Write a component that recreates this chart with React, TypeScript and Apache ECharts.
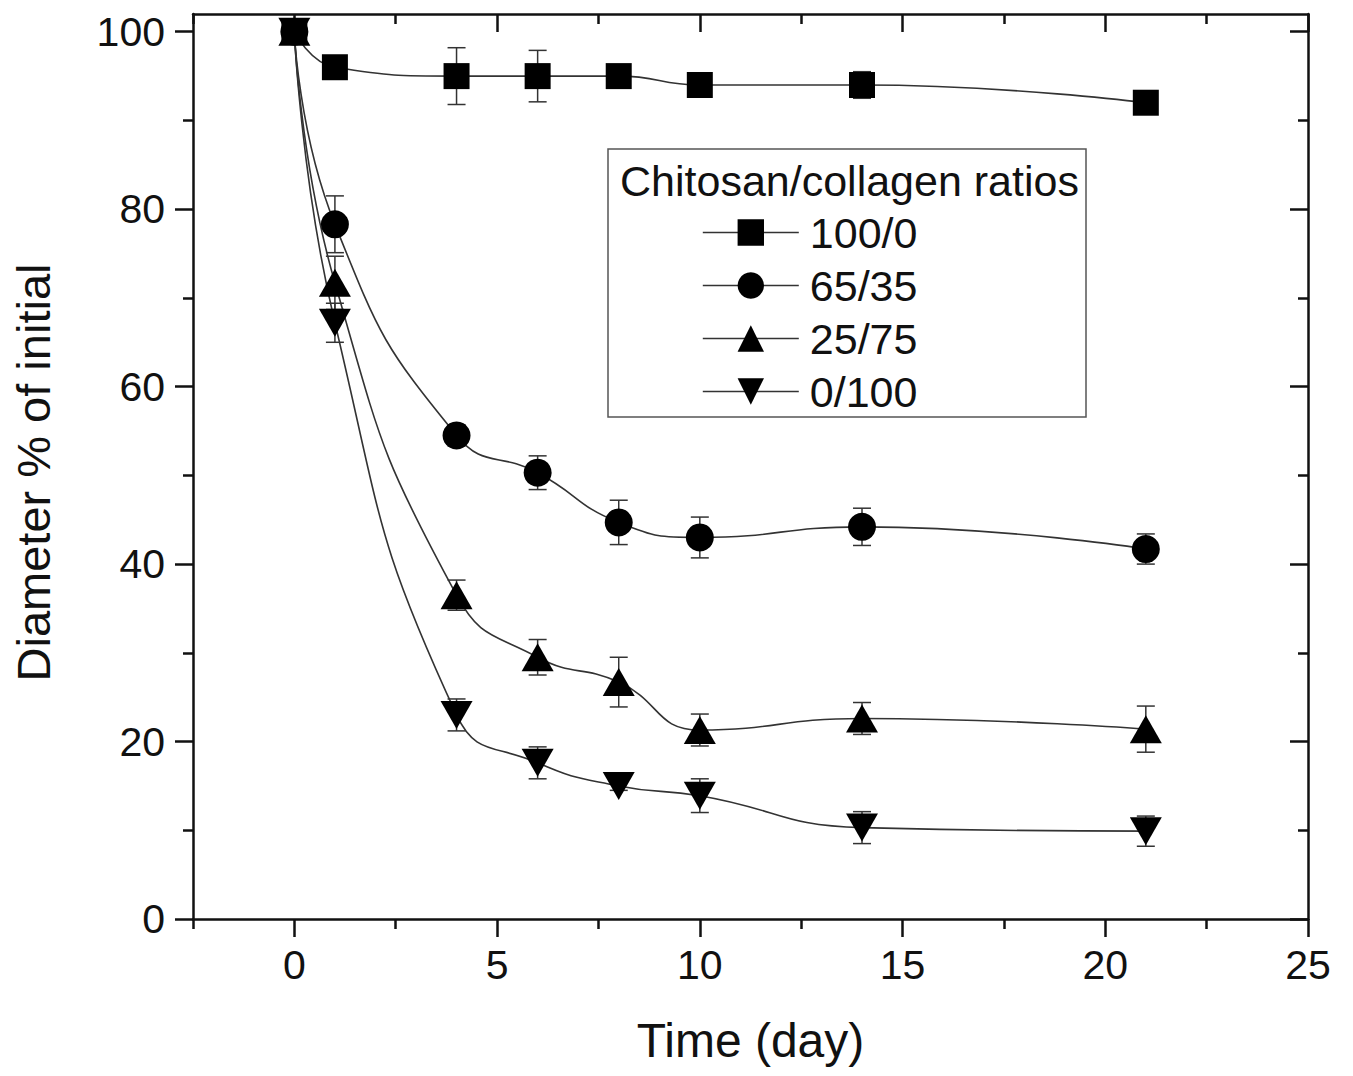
import React, { useEffect, useRef } from "react";
import * as echarts from "echarts";

const days = [0, 1, 4, 6, 8, 10, 14, 21];
const seriesNames = ["100/0", "65/35", "25/75", "0/100"];
const s100 = [100, 96, 95, 95, 95, 94, 94, 92];
const e100 = [0, 1, 3.2, 2.9, 0.8, 0.8, 1.5, 0.8];
const s65 = [100, 78.3, 54.5, 50.3, 44.7, 43, 44.2, 41.7];
const e65 = [0, 3.2, 1.2, 1.9, 2.5, 2.3, 2.1, 1.7];
const s25 = [100, 71.7, 36.5, 29.5, 26.7, 21.3, 22.6, 21.4];
const e25 = [0, 3, 1.7, 2, 2.8, 1.8, 1.8, 2.6];
const s0 = [100, 67.2, 23, 17.6, 15, 13.9, 10.3, 9.9];
const e0 = [0, 2.2, 1.8, 1.8, 0.5, 1.9, 1.8, 1.7];

const xMajor = [0, 5, 10, 15, 20, 25];
const xMinor = [-2.5, 2.5, 7.5, 12.5, 17.5, 22.5];
const yMajor = [0, 20, 40, 60, 80, 100];
const yMinor = [10, 30, 50, 70, 90];

const legendTitle = "Chitosan/collagen ratios";
const xTitle = "Time (day)";
const yTitle = "Diameter % of initial";

const FONT = "'Liberation Sans', Arial, Helvetica, sans-serif";

export default function App() {
  const ref = useRef<HTMLDivElement>(null);
  useEffect(() => {
    document.body.style.margin = "0";
    const chart = echarts.init(ref.current!, null, { renderer: "svg" });
    const values = [s100, s65, s25, s0];
    const errs = [e100, e65, e25, e0];
    const symbols = ["rect", "circle", "triangle", "triangle"];
    const sizes: any[] = [26, 28, [32, 28], [32, 28]];
    const rotates = [0, 0, 0, 180];

    const axisLine = { show: true, onZero: false, lineStyle: { color: "#111", width: 2.5 } };
    const noLine = { show: false, onZero: false };
    const mkX = (pos: string, ticks: number[], len: number, inside: boolean, labels: boolean, line: boolean, name?: string) => ({
      type: "value",
      position: pos,
      min: -2.5,
      max: 25,
      axisLine: line ? axisLine : noLine,
      splitLine: { show: false },
      axisTick: { show: true, customValues: ticks, length: len, inside, lineStyle: { color: "#111", width: 2.5 } },
      axisLabel: labels
        ? { show: true, customValues: xMajor, fontSize: 41, color: "#111", fontFamily: FONT, margin: 25 }
        : { show: false },
      name: name,
      nameLocation: "middle",
      nameGap: 97,
      nameTextStyle: { fontSize: 48, color: "#111", fontFamily: FONT },
    });
    const mkY = (pos: string, ticks: number[], len: number, inside: boolean, labels: boolean, line: boolean, name?: string) => ({
      type: "value",
      position: pos,
      min: 0,
      max: 102,
      axisLine: line ? axisLine : noLine,
      splitLine: { show: false },
      axisTick: { show: true, customValues: ticks, length: len, inside, lineStyle: { color: "#111", width: 2.5 } },
      axisLabel: labels
        ? { show: true, customValues: yMajor, fontSize: 41, color: "#111", fontFamily: FONT, margin: 28 }
        : { show: false },
      name: name,
      nameLocation: "middle",
      nameGap: 136,
      nameRotate: 90,
      nameTextStyle: { fontSize: 47, color: "#111", fontFamily: FONT, padding: [0, 12, 0, 0] },
    });

    const lineSeries = values.map((v, i) => ({
      name: seriesNames[i],
      type: "line",
      xAxisIndex: 0,
      yAxisIndex: 0,
      data: days.map((d, j) => [d, v[j]]),
      smooth: 0.5,
      symbol: symbols[i],
      symbolSize: sizes[i],
      symbolRotate: rotates[i],
      showAllSymbol: true,
      itemStyle: { color: "#000" },
      lineStyle: { color: "#333", width: 1.6 },
      z: 3,
    }));

    const errSeries = values.map((v, i) => ({
      type: "custom",
      name: "err" + i,
      xAxisIndex: 0,
      yAxisIndex: 0,
      data: days.map((d, j) => [d, v[j], errs[i][j]]),
      encode: { x: 0, y: 1 },
      z: 2,
      silent: true,
      renderItem: (params: any, api: any) => {
        const x = api.value(0);
        const y = api.value(1);
        const e = api.value(2);
        if (!e) return { type: "group", children: [] };
        const top = api.coord([x, y + e]);
        const bot = api.coord([x, y - e]);
        const cap = 9;
        const style = { stroke: "#333", lineWidth: 1.5 };
        return {
          type: "group",
          children: [
            { type: "line", shape: { x1: top[0], y1: top[1], x2: bot[0], y2: bot[1] }, style },
            { type: "line", shape: { x1: top[0] - cap, y1: top[1], x2: top[0] + cap, y2: top[1] }, style },
            { type: "line", shape: { x1: bot[0] - cap, y1: bot[1], x2: bot[0] + cap, y2: bot[1] }, style },
          ],
        };
      },
    }));

    chart.setOption({
      animation: false,
      backgroundColor: "#fff",
      textStyle: { fontFamily: FONT },
      grid: { left: 193, top: 14, right: 45, bottom: 157, containLabel: false },
      xAxis: [
        mkX("bottom", xMajor, 18, false, true, true, xTitle),
        mkX("bottom", xMinor, 10, false, false, false),
        mkX("top", xMajor, 18, true, false, true),
        mkX("top", xMinor, 10, true, false, false),
      ],
      yAxis: [
        mkY("left", yMajor, 18, false, true, true, yTitle),
        mkY("left", yMinor, 10, false, false, false),
        mkY("right", yMajor, 18, true, false, true),
        mkY("right", yMinor, 10, true, false, false),
      ],
      legend: {
        data: seriesNames,
        orient: "vertical",
        left: 702,
        top: 211,
        padding: 0,
        itemGap: 10,
        itemWidth: 96,
        itemHeight: 33,
        selectedMode: false,
        textStyle: { fontSize: 43, color: "#111", fontFamily: FONT, padding: [0, 0, 0, 6] },
        lineStyle: { color: "#333", width: 1.6 },
      },
      graphic: [
        {
          type: "rect",
          shape: { x: 608, y: 149, width: 478, height: 268 },
          style: { fill: "none", stroke: "#555", lineWidth: 1.5 },
          z: 1,
        },
        {
          type: "text",
          x: 620,
          y: 181,
          style: {
            text: legendTitle,
            fontSize: 43,
            fill: "#111",
            fontFamily: FONT,
            verticalAlign: "middle",
            textAlign: "left",
          },
          z: 10,
        },
      ],
      series: [...errSeries, ...lineSeries],
    });
    return () => chart.dispose();
  }, []);
  return <div ref={ref} style={{ width: 1353, height: 1076 }} />;
}
